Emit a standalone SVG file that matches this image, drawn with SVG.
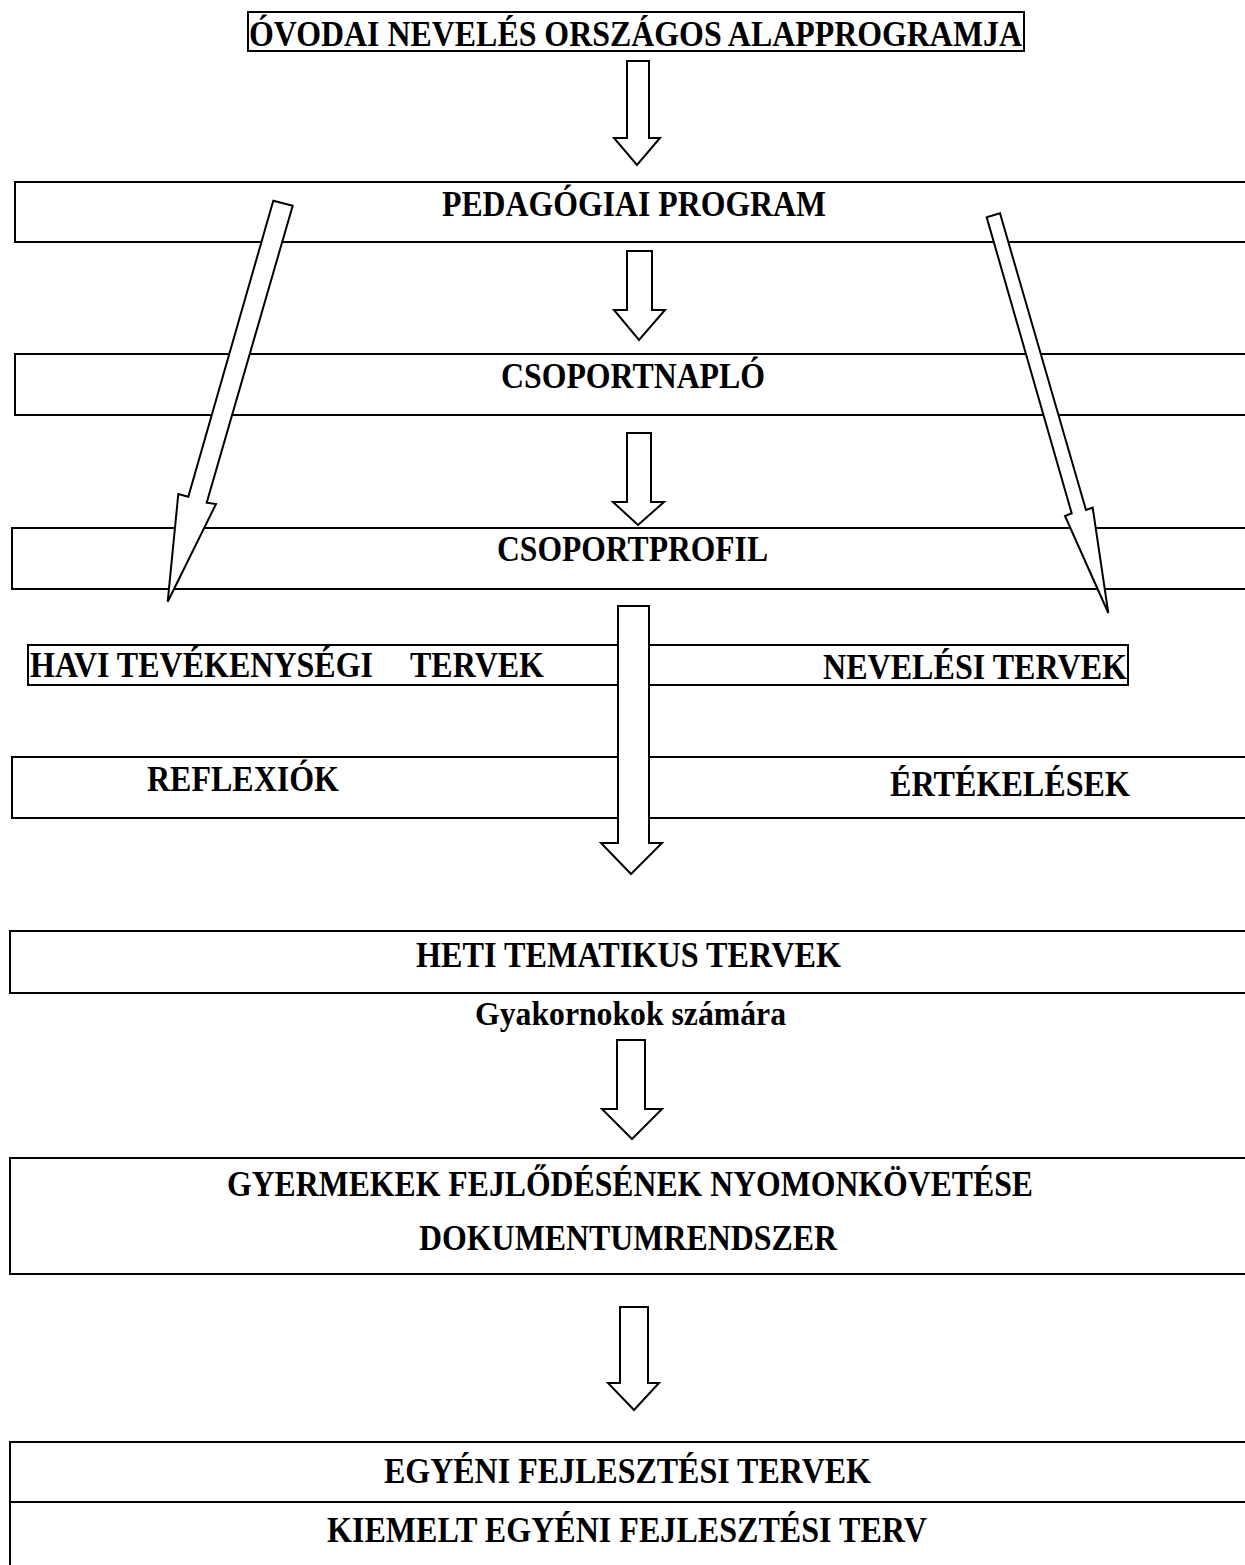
<svg xmlns="http://www.w3.org/2000/svg" width="1245" height="1565" viewBox="0 0 1245 1565">
  <style>
    .box { fill: #ffffff; stroke: #000000; stroke-width: 2; }
    .arrow { fill: #ffffff; stroke: #000000; stroke-width: 2; stroke-linejoin: miter; }
    .t { font-family: "Liberation Serif", "Times New Roman", serif; font-weight: bold; font-size: 36px; fill: #000000; }
    .s { font-size: 34px; }
  </style>
  <rect width="1245" height="1565" fill="#ffffff"/>

  <g id="node-alapprogram">
    <rect class="box" x="248" y="12" width="776" height="39"/>
    <text class="t" x="249" y="46" textLength="773" lengthAdjust="spacingAndGlyphs">ÓVODAI NEVELÉS ORSZÁGOS ALAPPROGRAMJA</text>
  </g>

  <g id="node-pedagogiai">
    <rect class="box" x="15" y="182" width="1240" height="60"/>
    <text class="t" x="442" y="216" textLength="384" lengthAdjust="spacingAndGlyphs">PEDAGÓGIAI PROGRAM</text>
  </g>

  <g id="node-csoportnaplo">
    <rect class="box" x="15" y="354" width="1240" height="61"/>
    <text class="t" x="501" y="388" textLength="264" lengthAdjust="spacingAndGlyphs">CSOPORTNAPLÓ</text>
  </g>

  <g id="node-csoportprofil">
    <rect class="box" x="12" y="528" width="1243" height="61"/>
    <text class="t" x="497" y="561" textLength="271" lengthAdjust="spacingAndGlyphs">CSOPORTPROFIL</text>
  </g>

  <g id="node-havi-neveles">
    <rect class="box" x="28" y="645" width="1100" height="40"/>
    <text class="t" x="30" y="677" textLength="343" lengthAdjust="spacingAndGlyphs">HAVI TEVÉKENYSÉGI</text>
    <text class="t" x="410" y="677" textLength="134" lengthAdjust="spacingAndGlyphs">TERVEK</text>
    <text class="t" x="823" y="679" textLength="304" lengthAdjust="spacingAndGlyphs">NEVELÉSI TERVEK</text>
  </g>

  <g id="node-reflexiok-ertekelesek">
    <rect class="box" x="12" y="757" width="1243" height="61"/>
    <text class="t" x="147" y="791" textLength="192" lengthAdjust="spacingAndGlyphs">REFLEXIÓK</text>
    <text class="t" x="890" y="796" textLength="240" lengthAdjust="spacingAndGlyphs">ÉRTÉKELÉSEK</text>
  </g>

  <g id="node-heti">
    <rect class="box" x="10" y="931" width="1245" height="62"/>
    <text class="t" x="416" y="967" textLength="425" lengthAdjust="spacingAndGlyphs">HETI TEMATIKUS TERVEK</text>
  </g>

  <g id="label-gyakornokok">
    <text class="t s" x="475" y="1025" textLength="311" lengthAdjust="spacingAndGlyphs">Gyakornokok számára</text>
  </g>

  <g id="node-gyermekek">
    <rect class="box" x="10" y="1158" width="1245" height="116"/>
    <text class="t" x="227" y="1196" textLength="806" lengthAdjust="spacingAndGlyphs">GYERMEKEK FEJLŐDÉSÉNEK NYOMONKÖVETÉSE</text>
    <text class="t" x="419" y="1250" textLength="418" lengthAdjust="spacingAndGlyphs">DOKUMENTUMRENDSZER</text>
  </g>

  <g id="node-egyeni">
    <rect class="box" x="10" y="1442" width="1245" height="60"/>
    <text class="t" x="384" y="1483" textLength="487" lengthAdjust="spacingAndGlyphs">EGYÉNI FEJLESZTÉSI TERVEK</text>
  </g>

  <g id="node-kiemelt">
    <rect class="box" x="10" y="1502" width="1245" height="70"/>
    <text class="t" x="327" y="1542" textLength="600" lengthAdjust="spacingAndGlyphs">KIEMELT EGYÉNI FEJLESZTÉSI TERV</text>
  </g>

  <g id="connectors">
    <polygon class="arrow" points="627,61 649,61 649,138 660,138 637,165 614,138 627,138"/>
    <polygon class="arrow" points="627,251 652,251 652,310 665,310 639,340 614,310 627,310"/>
    <polygon class="arrow" points="627,433 651,433 651,502 664,502 638,525 613,502 627,502"/>
    <polygon class="arrow" points="273.3,200.7 292.7,205.7 206.7,502.7 216,504 167.7,601.7 178.3,494 188.3,496.7"/>
    <polygon class="arrow" points="986.7,217.3 1000,213.3 1086,510 1092.7,507.7 1108.3,613 1065,516 1071.7,513.3"/>
    <polygon class="arrow" points="618,606 649,606 649,843 662,843 631,874 601,843 618,843"/>
    <polygon class="arrow" points="617,1040 645,1040 645,1109 662,1109 632,1139 602,1109 617,1109"/>
    <polygon class="arrow" points="620,1307 648,1307 648,1383 659,1383 634,1410 608,1383 620,1383"/>
  </g>
</svg>
